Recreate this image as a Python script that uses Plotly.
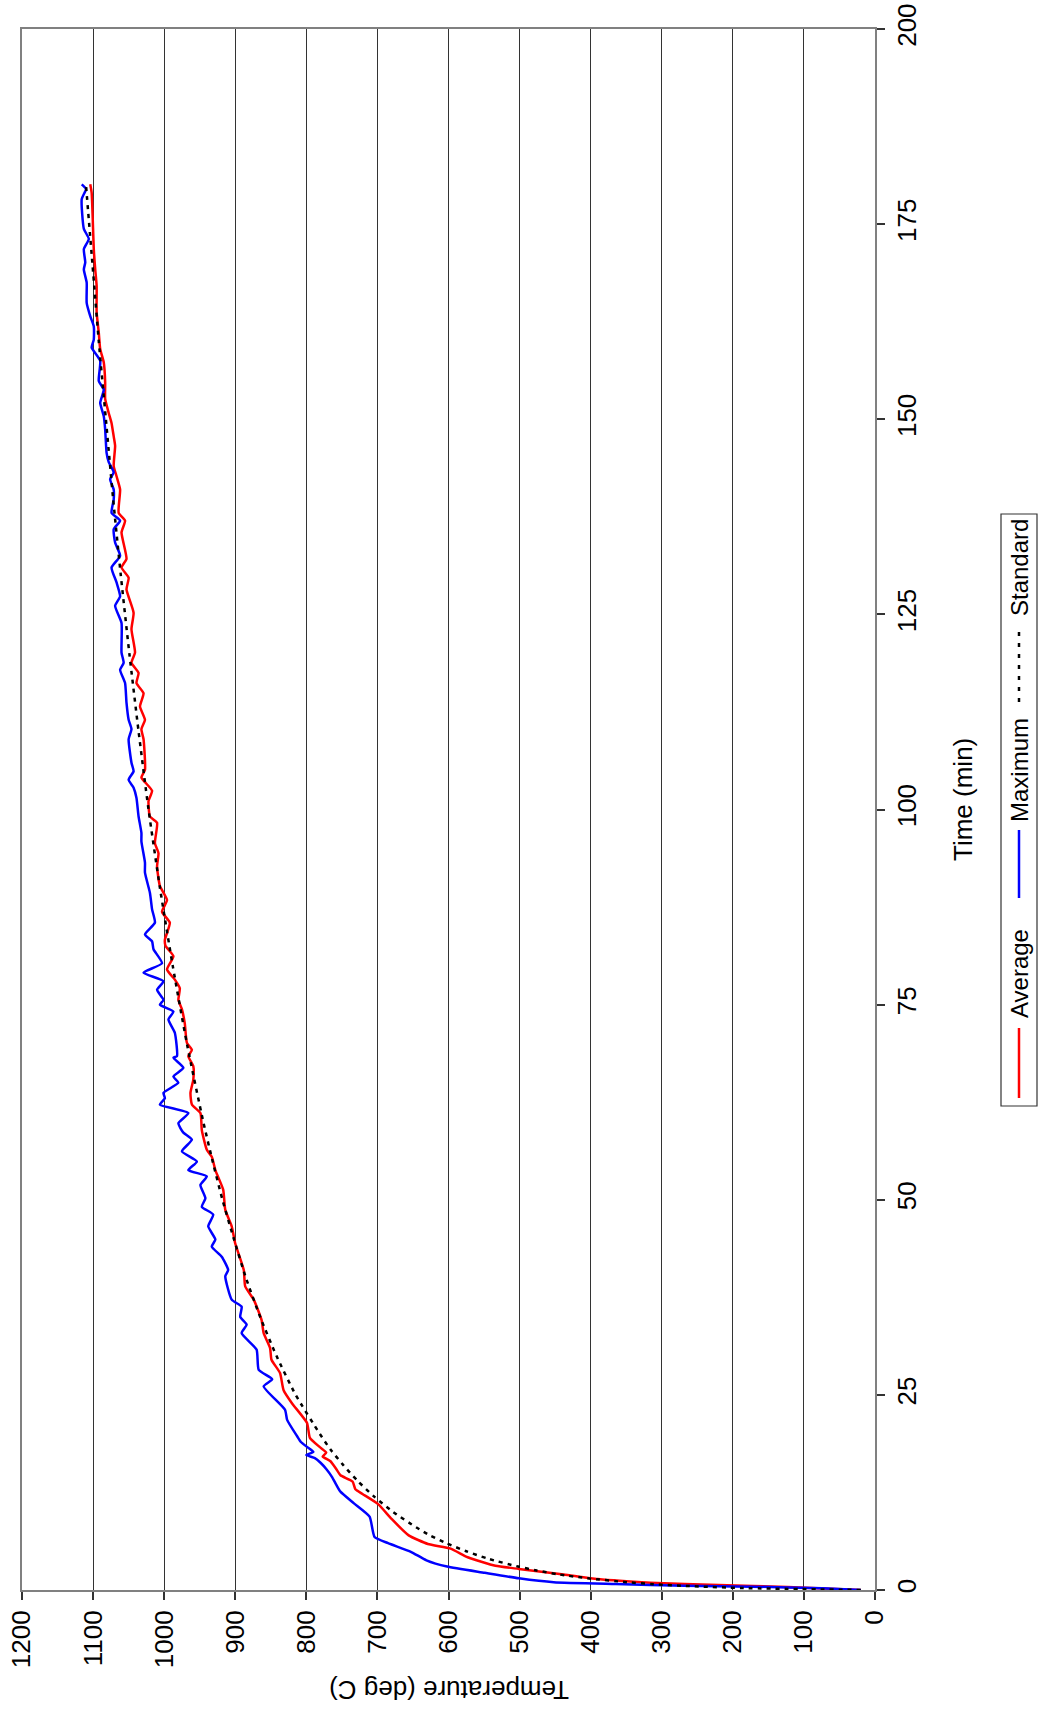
import plotly.graph_objects as go

# ---------------- data ----------------
avg_time = [0, 0.38, 0.64, 0.94, 1.4, 2.0, 2.7, 3.1, 4.2, 5.3, 5.9, 7.0, 9.1, 11.0, 12.3, 12.9,
            13.9, 14.7, 15.5, 16.5, 17.1, 17.6, 18.3, 19.5, 21.4, 23.9, 25.6, 27.8, 29.5, 31.0,
            32.9, 34.6, 37.2, 38.9, 41.0, 44.4, 46.6, 48.7, 51.3, 53.8, 55.5, 56.4, 58.9, 61.1,
            62.2, 63.7, 65.4, 67.1, 68.4, 69.2, 70.1, 72.6, 74.4, 75.6, 77.1, 78.2, 79.5, 81.2,
            82.5, 83.3, 85.5, 86.9, 88.4, 90.2, 92.7, 94.4, 95.7, 98.3, 99.1, 101.1, 102.4, 104.1,
            105.1, 109.0, 110.3, 111.5, 113.2, 114.9, 116.2, 117.5, 118.8, 120.1, 123.1, 125.2,
            128.2, 129.7, 131.0, 132.1, 135.5, 137.0, 138.0, 141.0, 142.7, 144.0, 146.6, 147.8,
            149.5, 150.8, 152.6, 154.7, 157.3, 159.0, 161.1, 163.7, 167.1, 169.2, 171.8, 179.0, 180.1]
avg_temp = [20, 123, 220, 316, 390, 438, 501, 534, 573, 597, 629, 656, 680, 699, 721, 731,
            735, 752, 758, 766, 777, 772, 781, 795, 799, 820, 832, 837, 849, 851,
            860, 863, 874, 886, 888, 900, 905, 914, 917, 928, 933, 940, 947, 949,
            961, 963, 959, 959, 966, 961, 968, 971, 975, 980, 978, 985, 996, 987,
            998, 999, 992, 1003, 996, 1006, 1010, 1008, 1013, 1010, 1020, 1022, 1017, 1032,
            1027, 1029, 1032, 1027, 1034, 1029, 1039, 1036, 1046, 1041, 1046, 1043,
            1053, 1050, 1060, 1053, 1060, 1055, 1064, 1062, 1067, 1071, 1069, 1071,
            1074, 1078, 1083, 1083, 1085, 1090, 1092, 1095, 1095, 1097, 1099, 1102, 1104]

max_time = [0, 0.21, 0.43, 0.55, 0.76, 1.0, 1.5, 2.2, 3.0, 3.8, 4.9, 6.0, 6.8, 9.4, 11.1, 12.6,
            13.5, 14.5, 15.5, 16.3, 16.9, 17.3, 17.7, 18.4, 19.0, 19.7, 21.8, 23.1, 26.1, 27.0,
            28.2, 30.8, 32.9, 34.0, 35.0, 36.3, 37.2, 40.2, 41.0, 42.7, 44.0, 44.9, 46.6, 48.1,
            49.1, 50.2, 51.9, 53.0, 53.8, 54.9, 56.2, 57.7, 58.6, 59.8, 61.1, 62.2, 63.0, 63.7,
            65.0, 65.8, 66.9, 68.2, 68.4, 71.4, 73.1, 74.1, 75.0, 75.6, 76.9, 78.0, 79.1, 80.3,
            82.1, 83.1, 84.0, 85.5, 87.2, 89.3, 91.9, 93.2, 95.9, 97.0, 99.1, 101.5, 102.8, 103.8,
            104.9, 106.0, 109.0, 110.3, 111.5, 113.7, 116.2, 117.9, 118.8, 120.1, 123.9, 126.1,
            127.3, 129.1, 131.0, 132.5, 134.2, 135.9, 137.0, 138.0, 139.7, 141.0, 142.3, 143.2,
            144.5, 145.7, 148.7, 150.4, 152.1, 153.8, 154.9, 157.5, 159.2, 160.2, 161.9, 163.2,
            164.9, 167.5, 169.2, 170.1, 171.8, 173.1, 174.4, 178.2, 179.5, 180.1]
max_temp = [20, 74, 172, 268, 365, 452, 501, 549, 602, 631, 653, 685, 704, 711, 733, 752,
            758, 764, 772, 780, 788, 800, 790, 800, 808, 813, 827, 830, 860, 848,
            867, 870, 891, 884, 893, 891, 905, 914, 910, 919, 933, 928, 938, 931,
            947, 942, 949, 940, 966, 954, 975, 961, 973, 980, 966, 1006, 999, 1001,
            980, 987, 973, 987, 982, 985, 994, 987, 1006, 1001, 1010, 1001, 1029, 1003,
            1015, 1017, 1027, 1013, 1017, 1020, 1027, 1027, 1032, 1032, 1036, 1039, 1043, 1050,
            1043, 1046, 1050, 1046, 1050, 1053, 1055, 1062, 1057, 1060, 1060, 1069,
            1062, 1067, 1074, 1062, 1069, 1071, 1062, 1074, 1071, 1071, 1076, 1071,
            1078, 1081, 1083, 1085, 1090, 1085, 1092, 1090, 1102, 1099, 1099, 1104,
            1109, 1109, 1113, 1111, 1113, 1106, 1113, 1116, 1110, 1116]

std_time = [0, 0.25, 0.5, 0.75, 1, 1.5, 2, 2.5, 3, 4, 5, 6, 7, 8, 10, 12, 14, 16, 18, 20,
            25, 30, 35, 40, 45, 50, 55, 60, 70, 80, 90, 100, 110, 120, 130, 140, 150, 160,
            170, 180]
std_temp = [20, 185, 261, 312, 349, 404, 445, 476, 502, 544, 576, 603, 626, 645, 678, 705,
            728, 748, 766, 781, 815, 842, 865, 885, 902, 918, 932, 945, 968, 988, 1006, 1022,
            1036, 1049, 1061, 1072, 1082, 1092, 1101, 1110]

temp_ticks = list(range(0, 1201, 100))
time_ticks = [0, 25, 50, 75, 100, 125, 150, 175, 200]

series_names = ["Average", "Maximum", "Standard"]

# ---------------- geometry (page pixels) ----------------
W, H = 1038, 1715
L, R, T, B = 22, 875, 29, 1590   # plot area in page pixels


def px(xp):
    return (xp - L) / (R - L)


def py(yp):
    return (B - yp) / (B - T)


FONT = "Liberation Sans, Arial, sans-serif"

fig = go.Figure()
fig.add_trace(go.Scatter(x=avg_temp, y=avg_time, mode="lines", name=series_names[0],
                         line=dict(color="#ff0000", width=2.5, shape="spline", smoothing=0.5),
                         showlegend=False))
fig.add_trace(go.Scatter(x=max_temp, y=max_time, mode="lines", name=series_names[1],
                         line=dict(color="#0000ff", width=2.5, shape="spline", smoothing=0.5),
                         showlegend=False))
fig.add_trace(go.Scatter(x=std_temp, y=std_time, mode="lines", name=series_names[2],
                         line=dict(color="#000000", width=2.5, dash="4px,5px",
                                   shape="spline", smoothing=0.6),
                         showlegend=False))

fig.update_layout(
    width=W, height=H,
    margin=dict(l=L, r=W - R, t=T, b=H - B, pad=0),
    paper_bgcolor="white", plot_bgcolor="white",
    font=dict(family=FONT, size=26, color="black"),
    xaxis=dict(range=[1200, 0], tickvals=temp_ticks, ticktext=[str(v) for v in temp_ticks],
               tickangle=-90, ticks="outside", ticklen=8, tickwidth=1.5, tickcolor="#333",
               ticklabeloverflow="allow", automargin=False,
               showgrid=True, gridcolor="#333333", gridwidth=1.2,
               showline=True, linecolor="#808080", linewidth=2, mirror=True,
               zeroline=False, tickfont=dict(size=26, family=FONT)),
    yaxis=dict(range=[0, 200], tickvals=time_ticks, side="right",
               tickangle=-90, ticks="outside", ticklen=8, tickwidth=1.5, tickcolor="#333",
               ticklabeloverflow="allow", automargin=False,
               showgrid=False, showline=True, linecolor="#808080", linewidth=2, mirror=True,
               zeroline=False, tickfont=dict(size=26, family=FONT)),
)

annotations = [
    dict(text="Temperature (deg C)", x=px(449), y=py(1690), textangle=180, size=26),
    dict(text="Time (min)", x=px(963), y=py(800), textangle=-90, size=26),
]

# manual rotated legend (reads bottom to top)
leg_x = 1019
items = [
    # (name, color, dash, line bottom, line top, text center)
    (series_names[0], "#ff0000", "solid", 1098, 1028, 974),
    (series_names[1], "#0000ff", "solid", 898, 830, 770),
    (series_names[2], "#000000", "dot", 702, 628, 568),
]
shapes = [dict(type="rect", xref="paper", yref="paper", x0=px(1001), x1=px(1037),
               y0=py(1106), y1=py(514), line=dict(color="#333333", width=1.2))]
for name, col, dash, yb, yt, yc in items:
    shapes.append(dict(type="line", xref="paper", yref="paper", x0=px(leg_x), x1=px(leg_x),
                       y0=py(yb), y1=py(yt),
                       line=dict(color=col, width=2.5, dash=("4px,7px" if dash == "dot" else "solid"))))
    annotations.append(dict(text=name, x=px(leg_x), y=py(yc), textangle=-90, size=24))

for a in annotations:
    size = a.pop("size")
    a.update(xref="paper", yref="paper", showarrow=False, xanchor="center", yanchor="middle",
             borderpad=0, font=dict(size=size, family=FONT, color="black"))

fig.update_layout(annotations=annotations, shapes=shapes)
fig.write_html("out.html", config={"displayModeBar": False},
               post_script="document.body.style.margin='0px';")
